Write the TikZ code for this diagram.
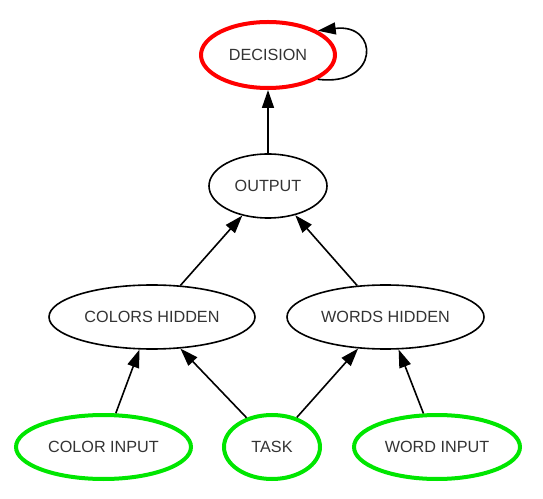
\documentclass[tikz,border=0pt]{standalone}
\usepackage{fontspec}
\setmainfont{Liberation Sans}
\usetikzlibrary{shapes.geometric,arrows.meta}

\begin{document}
\begin{tikzpicture}[x=1pt,y=1pt,
  unit/.style = {ellipse, draw=black, line width=1.6pt, inner sep=0pt, minimum height=64pt,
                 text=black!80, font=\fontsize{16.2}{19}\selectfont},
  inunit/.style = {unit, draw={rgb,255:red,0;green,230;blue,0}, line width=4pt},
  outunit/.style = {unit, draw={rgb,255:red,255;green,0;blue,0}, line width=4pt, minimum height=66pt},
  edge/.style = {line width=1.6pt, -{Triangle[length=18pt,width=12pt]}}]
\useasboundingbox (0,0) rectangle (543,498);
\node[outunit, minimum width=134pt] (decision) at (268,443) {DECISION};
\node[unit, minimum width=118pt] (output) at (268,312) {OUTPUT};
\node[unit, minimum width=206pt] (colorshid) at (152,181) {COLORS HIDDEN};
\node[unit, minimum width=197pt] (wordshid) at (385.5,181) {WORDS HIDDEN};
\node[inunit, minimum width=175pt] (colorin) at (103.5,51) {COLOR INPUT};
\node[inunit, minimum width=96pt] (task) at (272,51) {TASK};
\node[inunit, minimum width=166pt] (wordin) at (437,51) {WORD INPUT};
\draw[edge] (output) -- (decision);
\draw[edge] (colorshid.48) -- (output.229);
\draw[edge] (wordshid.132) -- (output.313);
\draw[edge] (colorin.70) -- (colorshid.249);
\draw[edge] (task.131) -- (colorshid.312);
\draw[edge] (task.50) -- (wordshid.229);
\draw[edge] (wordin.112) -- (wordshid.292);
\draw[edge] (decision.-26) .. controls +(62,-8) and +(62,8) .. (decision.26);
\end{tikzpicture}
\end{document}
